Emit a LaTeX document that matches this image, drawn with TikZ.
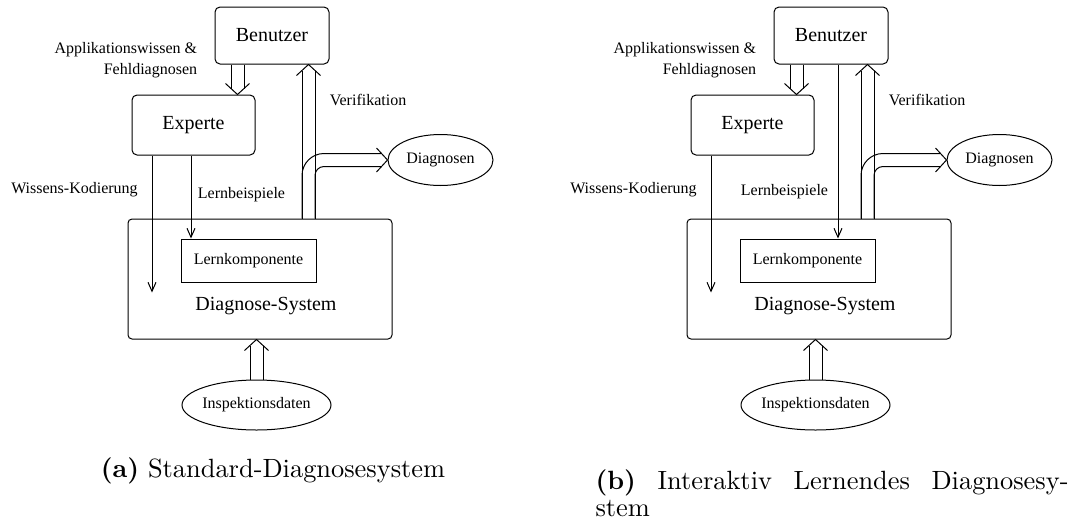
\documentclass[tikz,border=0pt]{standalone}
\usepackage{fontspec}
\usepackage{graphicx}
\newfontfamily\figfont{Liberation Serif}
\usetikzlibrary{calc,arrows.meta,shapes.geometric}

\tikzset{
  box/.style={draw, rounded corners=5pt, inner sep=0pt},
  sqbox/.style={draw, inner sep=0pt},
  oval/.style={draw, ellipse, inner sep=0pt},
  bigtext/.style={font=\figfont\fontsize{20}{24}\selectfont},
  smalltext/.style={font=\figfont\fontsize{16}{21}\selectfont},
  thinarrow/.style={-{Straight Barb[length=9pt,width=8pt]}},
  caption/.style={anchor=base west, inner sep=0pt}
}

% hollow double arrow: two parallel shafts and an open V head
\newcommand\dblhead[2]{% direction reference, tip
  \coordinate (da) at ($(#2)!11pt!(#1)$);
  \draw ($(da)!12pt!90:(#2)$) -- (#2) -- ($(da)!12pt!-90:(#2)$);
}
\newcommand\dblarrow[2]{% tail, tip
  \coordinate (dq) at ($(#2)!6pt!(#1)$);
  \draw ($(#1)!6.5pt!90:(#2)$) -- ($(dq)!6.5pt!90:(#2)$)
        ($(#1)!6.5pt!-90:(#2)$) -- ($(dq)!6.5pt!-90:(#2)$);
  \dblhead{#1}{#2}
}

% parts shared by both system sketches
\newcommand\basefig[1]{%
  \node[box, minimum width=114pt, minimum height=57pt, bigtext] (ben#1) at (272,35.5) {Benutzer};
  \node[box, minimum width=123pt, minimum height=60pt, bigtext] (exp#1) at (193.5,125) {Experte};
  \node[box, rounded corners=4pt, minimum width=264pt, minimum height=120pt] (sys#1) at (260,279) {};
  \node[bigtext] (syslabel#1) at (266,306) {Diagnose-System};
  \node[sqbox, minimum width=135pt, minimum height=43pt, smalltext] (lern#1) at (248.5,260.5) {Lernkomponente};
  \node[oval, minimum width=105pt, minimum height=51pt, smalltext] (diag#1) at (440.5,160) {Diagnosen};
  \node[oval, inner xsep=-3pt, minimum width=149pt, minimum height=50pt, smalltext] (insp#1) at (256.5,405) {Inspektionsdaten};
  % Benutzer -> Experte
  \coordinate (bt#1) at ($(ben#1.south)+(-34.5,0)$);
  \coordinate (et#1) at ($(exp#1.north)+(44,0)$);
  \dblarrow{bt#1}{et#1}
  % Diagnose-System -> Benutzer (Verifikation)
  \coordinate (vt#1) at ($(sys#1.north)+(48.5,0)$);
  \coordinate (vh#1) at ($(ben#1.south)+(36.5,0)$);
  \dblarrow{vt#1}{vh#1}
  % branch towards Diagnosen
  \coordinate (dl#1) at ($(diag#1.west)+(-40,0)$);
  \draw[rounded corners=22pt] ($(vt#1)+(-6.5,0)$) |- ($(diag#1.west)+(-6,-6.5)$);
  \draw[rounded corners=9pt] ($(vt#1)+(6.5,0)$) |- ($(diag#1.west)+(-6,6.5)$);
  \dblhead{dl#1}{diag#1.west}
  % Inspektionsdaten -> Diagnose-System
  \coordinate (ih#1) at ($(sys#1.south)+(-3.5,0)$);
  \dblarrow{insp#1.north}{ih#1}
  % Wissens-Kodierung
  \coordinate (wk#1) at ($(exp#1.south)+(-41.5,0)$);
  \coordinate (wke#1) at ($(wk#1)+(0,137)$);
  \draw[thinarrow] (wk#1) -- (wke#1);
  % labels
  \node[smalltext, align=right, anchor=east] (apl#1) at (201,60.5) {Applikationswissen \&\\Fehldiagnosen};
  \node[smalltext, anchor=west] (ver#1) at (326,100) {Verifikation};
  \node[smalltext] (wkl#1) at (74.5,190) {Wissens-Kodierung};
}

\begin{document}
\begin{tikzpicture}[x=1pt, y=-1pt, line width=1pt]
\useasboundingbox (0,0) rectangle (1088,523);

% (a) standard system
\begin{scope}
  \basefig{A}
  \coordinate (lbA) at ($(expA.south)+(-2.5,0)$);
  \draw[thinarrow] (lbA) -- (lbA |- lernA.north);
  \node[smalltext] (lblA) at (241.5,195) {Lernbeispiele};
\end{scope}

% (b) interactive learning system
\begin{scope}[xshift=559pt]
  \basefig{B}
  \coordinate (lbB) at ($(benB.south)+(7,0)$);
  \draw[thinarrow] (lbB) -- (lbB |- lernB.north);
  \node[smalltext] (lblB) at (225.5,192) {Lernbeispiele};
\end{scope}

\node[caption] (capA) at (36,477) {\scalebox{2.64}{\parbox[t]{179.2pt}{\centering\fontsize{10}{10.6}\selectfont\textbf{(a)} Standard-Diagnosesystem}}};
\node[caption] (capB) at (595,489) {\scalebox{2.64}{\parbox[t]{179.2pt}{\fontsize{10}{10.6}\selectfont\textbf{(b)} Interaktiv Lernendes Diagnosesy-\linebreak stem}}};
\end{tikzpicture}
\end{document}
